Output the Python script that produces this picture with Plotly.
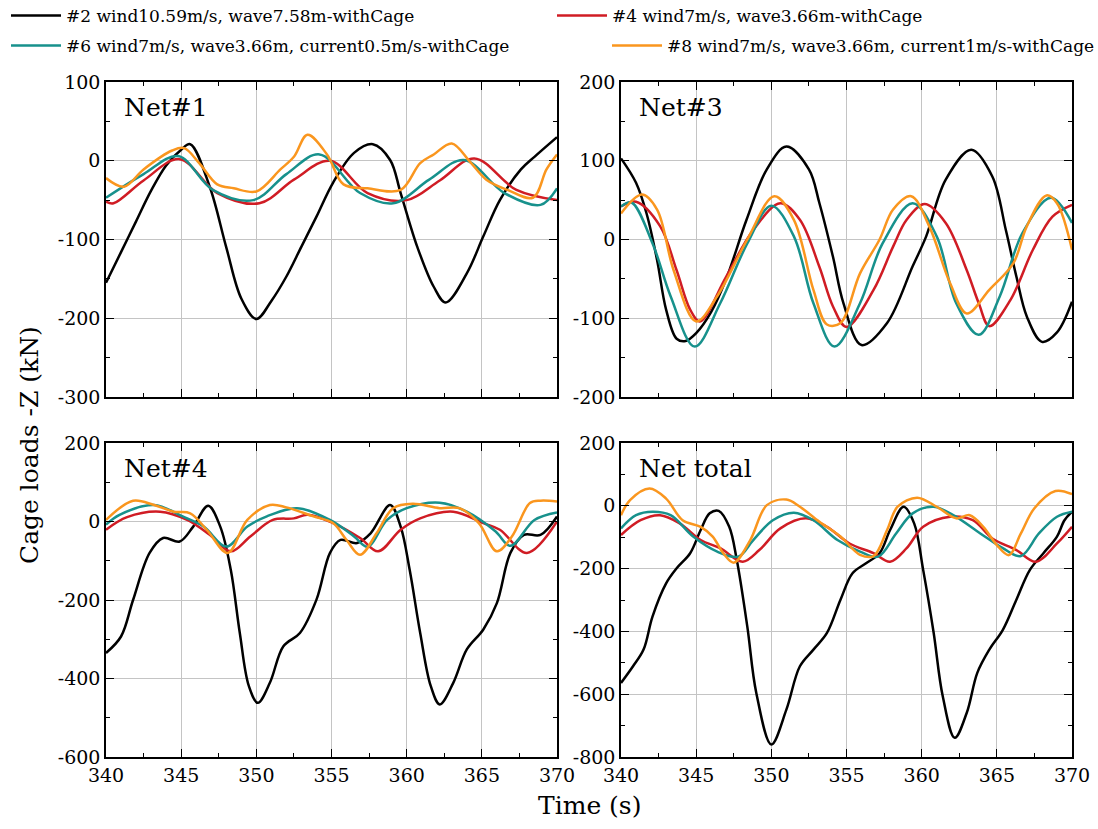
import plotly.graph_objects as go
from plotly.subplots import make_subplots

# ---------------- data ----------------
SERIES_NAMES = [
    "#2 wind10.59m/s, wave7.58m-withCage",
    "#4 wind7m/s, wave3.66m-withCage",
    "#6 wind7m/s, wave3.66m, current0.5m/s-withCage",
    "#8 wind7m/s, wave3.66m, current1m/s-withCage",
]
PANEL_LABELS = ["Net#1", "Net#3", "Net#4", "Net total"]

# Net#1
N1_T2 = [340, 341, 342, 343, 344, 345, 345.6, 346.9, 348, 349, 350, 351, 352, 353, 354, 355.1, 356.5, 357.75, 358.9, 359.6, 360.7, 361.8, 362.6, 364, 365.1, 366.2, 367.6, 368.5, 370]
N1_V2 = [-155, -116, -77, -38, -6, 14, 21, -33, -110, -175, -201, -178, -147, -109, -71, -28, 10, 21, 1, -41, -109, -160, -180, -143, -96, -50, -11, 5, 30]
N1_T4 = [340, 340.5, 342.5, 344.9, 347.4, 350.2, 352.5, 354.9, 357.4, 360, 362.2, 364.5, 367.3, 370]
N1_V4 = [-52, -54, -25, 2, -41, -54, -24, 0, -41, -50, -25, 3, -37, -50]
N1_T6 = [340, 342.5, 344.8, 347.1, 349.8, 352, 354.2, 356.9, 359.1, 361.5, 363.8, 366.5, 368.9, 370]
N1_V6 = [-47, -17, 6, -37, -50, -17, 8, -41, -54, -24, 1, -41, -56, -35]
N1_T8 = [340, 341.2, 342.5, 344.4, 345.2, 346.2, 347.4, 348.5, 350, 351.6, 352.5, 353.4, 354.7, 355.8, 357.4, 359.6, 360.9, 361.8, 363, 364.2, 365.3, 366.7, 368.4, 369.3, 370]
N1_V8 = [-22, -33, -11, 13, 16, -3, -30, -35, -39, -11, 5, 33, 8, -30, -35, -37, -3, 8, 22, -1, -24, -37, -47, -11, 8]

# Net#3
N3_T2 = [340, 341.0, 341.7, 342.4, 343.0, 343.7, 344.3, 345, 346, 347, 348.35, 349.7, 351, 352.5, 353.2, 354.1, 354.8, 356, 357.7, 359.4, 360.3, 361.6, 363.3, 364.7, 365.6, 366.3, 367.0, 368, 369, 370]
N3_V2 = [103, 72, 33, -26, -89, -126, -129, -119, -92, -50, 25, 89, 118, 89, 46, -22, -81, -134, -106, -34, 4, 76, 114, 80, 12, -47, -98, -130, -118, -79]
N3_T4 = [340, 341, 342.6, 343.7, 344.6, 345.25, 347, 348.8, 350.6, 351.9, 353.2, 354.1, 355, 356.8, 358.1, 359, 360.2, 361.6, 363, 363.8, 364.5, 365.9, 367.4, 368.7, 370]
N3_V4 = [42, 48, 17, -39, -89, -104, -47, 12, 46, 25, -35, -85, -111, -64, -9, 25, 45, 21, -39, -81, -110, -77, -13, 29, 44]
N3_T6 = [340, 340.7, 342.1, 343.3, 344.9, 346.6, 348.4, 350, 351.5, 352.8, 354.2, 355.9, 357.4, 359.4, 361, 362.3, 363.8, 365.2, 366.7, 368.6, 370]
N3_V6 = [42, 47, -5, -72, -136, -81, -5, 43, 4, -81, -136, -81, -5, 46, 4, -81, -121, -72, 8, 53, 21]
N3_T8 = [340, 341.4, 342.4, 343.5, 345, 346.4, 348.4, 350.2, 351.5, 352.8, 353.7, 354.6, 355.9, 357.2, 358.1, 359.3, 360.5, 361.9, 363, 364.5, 366.1, 367, 368.3, 369, 370]
N3_V8 = [33, 57, 38, -39, -104, -72, 0, 55, 25, -64, -108, -106, -43, 0, 38, 55, 17, -56, -94, -64, -30, 17, 56, 46, -13]

# Net#4
N4_T2 = [340, 341, 341.8, 342.9, 343.8, 344.9, 345.8, 346.8, 347.6, 348.3, 348.9, 349.5, 350.1, 350.9, 351.8, 352.9, 354, 354.9, 355.6, 356.7, 357.6, 358.9, 359.6, 360.2, 360.9, 361.6, 362.2, 363.1, 364, 365.1, 366, 366.9, 367.8, 368.9, 370]
N4_V2 = [-335, -293, -200, -80, -42, -51, -13, 40, -13, -123, -284, -419, -462, -411, -318, -284, -199, -80, -47, -55, -30, 42, -13, -123, -284, -419, -466, -411, -326, -275, -208, -80, -34, -34, 13]
N4_T4 = [340, 341.4, 343.6, 345.4, 346.9, 348.3, 349.6, 351.1, 352.5, 353.4, 355.1, 356.9, 358.1, 359.6, 360.9, 363.1, 365.1, 366.2, 368, 370]
N4_V4 = [-21, 11, 25, 4, -34, -76, -38, 4, 8, 17, -4, -42, -76, -21, 8, 25, -4, -21, -80, 0]
N4_T6 = [340, 340.9, 343.2, 345.1, 346.5, 348, 349.4, 350.7, 352.7, 354.9, 356.5, 357.4, 358.7, 360, 362.2, 364, 365.9, 366.9, 368.5, 370]
N4_V6 = [-8, 17, 42, 13, -13, -64, -13, 13, 34, 4, -38, -64, 4, 34, 48, 25, -25, -62, 4, 23]
N4_T8 = [340, 341.8, 343.2, 344.5, 345.6, 346.7, 348.1, 349.4, 350.9, 352, 353.8, 355.1, 356, 356.9, 358, 359.1, 360.4, 362.2, 363.5, 364.8, 366, 367, 368.2, 368.9, 370]
N4_V8 = [4, 53, 42, 25, 21, -21, -80, 4, 42, 36, 13, -4, -47, -85, -30, 34, 45, 34, 34, -4, -76, -38, 47, 53, 51]

# Net total
NT_T2 = [340, 340.8, 341.5, 342.1, 343, 343.7, 344.6, 345.3, 345.9, 346.5, 347.2, 347.7, 348.4, 349, 350, 351, 351.9, 352.8, 353.7, 354.6, 355.4, 356.3, 357.2, 357.9, 358.8, 359.5, 360.1, 360.8, 361.4, 362.2, 363, 363.7, 364.5, 365.4, 366.3, 367.2, 368.1, 369, 369.5, 370]
NT_V2 = [-564, -511, -458, -352, -247, -199, -151, -77, -24, -16, -67, -172, -384, -596, -760, -649, -511, -458, -405, -299, -215, -183, -151, -77, -3, -56, -204, -405, -606, -739, -659, -532, -458, -395, -299, -204, -151, -98, -46, -19]
NT_T4 = [340, 341.3, 342.6, 343.9, 345.3, 346.6, 348.1, 349.2, 350.6, 352.3, 353.7, 355.2, 356.8, 357.9, 359, 360.1, 361.9, 363.4, 364.7, 366.3, 367.6, 369, 370]
NT_V4 = [-93, -46, -30, -56, -109, -135, -178, -141, -72, -40, -67, -120, -151, -178, -135, -67, -35, -46, -104, -141, -178, -120, -67]
NT_T6 = [340, 341, 342.1, 343.3, 344.8, 346.4, 347.8, 348.8, 350.1, 351.5, 352.8, 354.4, 355.9, 357.1, 358.3, 359.4, 360.8, 362.1, 363.9, 365.4, 366.6, 367.8, 369, 370]
NT_V6 = [-72, -30, -19, -30, -98, -146, -162, -109, -46, -22, -46, -109, -146, -162, -88, -24, -3, -30, -88, -135, -160, -88, -35, -19]
NT_T8 = [340, 340.6, 341.9, 343, 344.1, 345.3, 346.1, 346.8, 347.5, 348.6, 349.7, 351, 351.9, 353.2, 354.6, 355.9, 356.8, 357.7, 358.4, 359.7, 361, 362.3, 363.2, 364.1, 365, 365.8, 366.6, 367.5, 368.9, 370]
NT_V8 = [-30, 18, 55, 23, -46, -67, -98, -151, -181, -109, 2, 20, -3, -51, -98, -156, -160, -77, -3, 26, -3, -40, -30, -67, -125, -157, -88, -8, 47, 37]

X_TICKS = [340, 345, 350, 355, 360, 365, 370]
Y_TICKS = [
    [-300, -200, -100, 0, 100],
    [-200, -100, 0, 100, 200],
    [-600, -400, -200, 0, 200],
    [-800, -600, -400, -200, 0, 200],
]
Y_MINOR = [50, 50, 100, 100]

PANELS = [
    [(N1_T2, N1_V2), (N1_T4, N1_V4), (N1_T6, N1_V6), (N1_T8, N1_V8)],
    [(N3_T2, N3_V2), (N3_T4, N3_V4), (N3_T6, N3_V6), (N3_T8, N3_V8)],
    [(N4_T2, N4_V2), (N4_T4, N4_V4), (N4_T6, N4_V6), (N4_T8, N4_V8)],
    [(NT_T2, NT_V2), (NT_T4, NT_V4), (NT_T6, NT_V6), (NT_T8, NT_V8)],
]

COLORS = ["#000000", "#d01c24", "#17918c", "#fa961e"]
FONT = "DejaVu Serif"
LEGEND_IDS = ["legend", "legend2", "legend3", "legend4"]

# ---------------- figure ----------------
W, H = 1098, 829
fig = make_subplots(rows=2, cols=2)

positions = [(1, 1), (1, 2), (2, 1), (2, 2)]
for p, (r, c) in enumerate(positions):
    for s, (t, v) in enumerate(PANELS[p]):
        fig.add_trace(
            go.Scatter(
                x=t, y=v, mode="lines", name=SERIES_NAMES[s],
                line=dict(color=COLORS[s], width=2.5, shape="spline", smoothing=1.0),
                showlegend=(p == 0),
                legend=LEGEND_IDS[s],
            ),
            row=r, col=c,
        )

# domains in pixels
xdoms = [(106 / W, 557 / W), (621 / W, 1072 / W)]
ydoms = [(1 - 397 / H, 1 - 82 / H), (1 - 757 / H, 1 - 443 / H)]

for p, (r, c) in enumerate(positions):
    idx = p + 1
    sfx = "" if idx == 1 else str(idx)
    common = dict(
        ticks="inside", ticklen=8, tickwidth=1.2, tickcolor="black",
        showline=True, linecolor="black", linewidth=1.5, mirror="allticks",
        showgrid=True, gridcolor="#c4c4c4", gridwidth=1, zeroline=False,
        tickfont=dict(family=FONT, size=19, color="black"),
    )
    fig.layout["xaxis" + sfx].update(
        domain=xdoms[c - 1], range=[340, 370], tickmode="array",
        tickvals=X_TICKS, ticktext=[str(v) for v in X_TICKS],
        showticklabels=(r == 2),
        minor=dict(tickmode="linear", tick0=340, dtick=2.5, ticks="inside",
                   ticklen=4, tickcolor="black", showgrid=False),
        **common,
    )
    yt = Y_TICKS[p]
    fig.layout["yaxis" + sfx].update(
        domain=ydoms[r - 1], range=[yt[0], yt[-1]], tickmode="array",
        tickvals=yt, ticktext=[str(v) for v in yt],
        minor=dict(tickmode="linear", tick0=0, dtick=Y_MINOR[p], ticks="inside",
                   ticklen=4, tickcolor="black", showgrid=False),
        **common,
    )
    fig.add_annotation(
        text=PANEL_LABELS[p], xref=f"x{sfx} domain", yref=f"y{sfx} domain",
        x=0.035, y=1 - 26 / 315, xanchor="left", yanchor="middle",
        showarrow=False, font=dict(family=FONT, size=25, color="black"),
    )

fig.add_annotation(
    text="Cage loads -Z (kN)", xref="paper", yref="paper",
    x=30 / W, y=1 - 445 / H, textangle=-90, showarrow=False,
    xanchor="center", yanchor="middle",
    font=dict(family=FONT, size=25, color="black"),
)
fig.add_annotation(
    text="Time (s)", xref="paper", yref="paper",
    x=589 / W, y=1 - 805 / H, showarrow=False,
    xanchor="center", yanchor="middle",
    font=dict(family=FONT, size=25, color="black"),
)

legend_common = dict(
    orientation="h", xanchor="left", yanchor="middle",
    bgcolor="rgba(0,0,0,0)", borderwidth=0, itemwidth=50,
    font=dict(family=FONT, size=17, color="black"),
)
fig.update_layout(
    width=W, height=H,
    margin=dict(l=0, r=0, t=0, b=0, autoexpand=False),
    paper_bgcolor="white", plot_bgcolor="white",
    font=dict(family=FONT, color="black"),
    legend=dict(x=6 / W, y=1 - 16 / H, **legend_common),
    legend2=dict(x=552 / W, y=1 - 16 / H, **legend_common),
    legend3=dict(x=6 / W, y=1 - 46 / H, **legend_common),
    legend4=dict(x=607 / W, y=1 - 46 / H, **legend_common),
)

fig.write_html(
    "out.html",
    config={"displayModeBar": False},
    post_script="document.body.style.margin='0';document.body.style.padding='0';",
)
